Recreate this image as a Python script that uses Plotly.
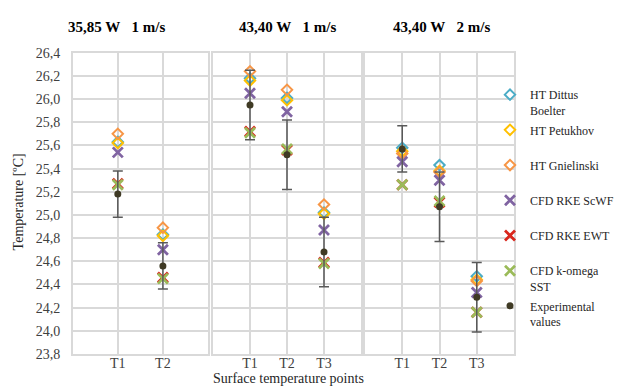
import plotly.graph_objects as go

# ---- data ----
panel_titles = ["35,85 W&nbsp;&nbsp;&nbsp;1 m/s", "43,40 W&nbsp;&nbsp;&nbsp;1 m/s", "43,40 W&nbsp;&nbsp;&nbsp;2 m/s"]
categories = [["T1", "T2"], ["T1", "T2", "T3"], ["T1", "T2", "T3"]]

series_names = ["HT Dittus<br>Boelter", "HT Petukhov<br>&nbsp;", "HT Gnielinski<br>&nbsp;",
                "CFD RKE ScWF<br>&nbsp;", "CFD RKE EWT<br>&nbsp;", "CFD k-omega<br>SST",
                "Experimental<br>values"]

dittus     = [[25.63, 24.83], [26.18, 26.01, 25.02], [25.58, 25.43, 24.47]]
petukhov   = [[25.62, 24.82], [26.16, 25.99, 25.01], [25.55, 25.38, 24.44]]
gnielinski = [[25.70, 24.89], [26.24, 26.08, 25.09], [25.53, 25.37, 24.43]]
rke_scwf   = [[25.54, 24.70], [26.05, 25.89, 24.87], [25.46, 25.30, 24.33]]
rke_ewt    = [[25.27, 24.46], [25.72, 25.56, 24.59], [25.26, 25.11, 24.16]]
k_omega    = [[25.26, 24.45], [25.71, 25.57, 24.58], [25.26, 25.12, 24.16]]
experiment = [[25.18, 24.56], [25.95, 25.52, 24.68], [25.57, 25.07, 24.29]]
exp_error  = [[0.2, 0.2], [0.3, 0.3, 0.3], [0.2, 0.3, 0.3]]

y_ticks = [23.8, 24.0, 24.2, 24.4, 24.6, 24.8, 25.0, 25.2, 25.4, 25.6, 25.8, 26.0, 26.2, 26.4]

# ---- styles ----
colors = ["#4BACC6", "#FFC000", "#F79646", "#8064A2", "#D9261C", "#9BBB59", "#3F3A24"]
symbols = ["diamond-open", "diamond-open", "diamond-open", "x-thin-open", "x-thin-open", "x-thin-open", "circle"]
sizes = [8, 8, 8, 10, 10, 10, 7]
all_series = [dittus, petukhov, gnielinski, rke_scwf, rke_ewt, k_omega, experiment]

FONT = "Liberation Serif"
GRID = "#D9D9D9"
OFF = 8  # page body margin offset
W, H = 628 - OFF, 392 - OFF


def px(x):
    return (x - OFF) / W


def py(y):
    return 1 - (y - OFF) / H


x_domains = [[px(72.7), px(208)], [px(213), px(361)], [px(365), px(514)]]
y_domain = [py(360.7), py(47.3)]

fig = go.Figure()

for p in range(3):
    xa = "x" if p == 0 else f"x{p+1}"
    ya = "y" if p == 0 else f"y{p+1}"
    xpos = [i + 1 for i in range(len(categories[p]))]
    for s in range(7):
        marker = dict(symbol=symbols[s], size=sizes[s], color=colors[s])
        if s < 6:
            marker["line"] = dict(color=colors[s], width=2 if s < 3 else 2.8)
        tr = go.Scatter(
            x=xpos, y=all_series[s][p], mode="markers", name=series_names[s],
            marker=marker, xaxis=xa, yaxis=ya, legendgroup=str(s),
            showlegend=(p == 0), cliponaxis=False,
        )
        if s == 6:
            tr.error_y = dict(type="data", array=exp_error[p], visible=True,
                              color="#595959", thickness=1.5, width=5)
        fig.add_trace(tr)

layout = dict(
    width=W, height=H, margin=dict(l=0, r=0, t=0, b=0),
    paper_bgcolor="white", plot_bgcolor="white",
    separators=",.",
    font=dict(family=FONT, size=14, color="#262626"),
    showlegend=True,
    legend=dict(x=px(490), xanchor="left", y=py(76), yanchor="top",
                bgcolor="rgba(0,0,0,0)", font=dict(family=FONT, size=12, color="#262626"),
                valign="top", tracegroupgap=1, itemwidth=30),
)

for p in range(3):
    xk = "xaxis" if p == 0 else f"xaxis{p+1}"
    yk = "yaxis" if p == 0 else f"yaxis{p+1}"
    n = len(categories[p])
    layout[xk] = dict(
        domain=x_domains[p], range=[0, n + 1], anchor="y" if p == 0 else f"y{p+1}",
        tickvals=[i + 1 for i in range(n)], ticktext=categories[p],
        showgrid=True, gridcolor=GRID, gridwidth=1.5, zeroline=False,
        showline=True, linecolor=GRID, linewidth=1.5, mirror=True,
        ticks="", ticklabelstandoff=-4,
        tickfont=dict(family=FONT, size=14, color="#404040"), fixedrange=True,
    )
    layout[yk] = dict(
        domain=y_domain, range=[23.8, 26.4], anchor="x" if p == 0 else f"x{p+1}",
        tickvals=y_ticks, tickformat=".1f", showticklabels=(p == 0),
        showgrid=True, gridcolor=GRID, gridwidth=1.5, zeroline=False,
        showline=True, linecolor=GRID, linewidth=1.5, mirror=True,
        ticks="", ticklabelstandoff=8,
        tickfont=dict(family=FONT, size=14, color="#404040"), fixedrange=True,
    )

annotations = []
title_x = [116, 287, 441]
for p in range(3):
    annotations.append(dict(
        text=f"<b>{panel_titles[p]}</b>", x=px(title_x[p]), y=py(20),
        xref="paper", yref="paper", xanchor="center", yanchor="middle", showarrow=False,
        font=dict(family=FONT, size=15, color="#000000"),
    ))
annotations.append(dict(
    text="Temperature [ºC]", x=px(18), y=py(203), xref="paper", yref="paper",
    xanchor="center", yanchor="middle", textangle=-90, showarrow=False,
    font=dict(family=FONT, size=14, color="#262626"),
))
annotations.append(dict(
    text="Surface temperature points", x=px(288), y=py(386), xref="paper", yref="paper",
    xanchor="center", yanchor="middle", showarrow=False,
    font=dict(family=FONT, size=14, color="#262626"),
))
layout["annotations"] = annotations

fig.update_layout(**layout)
fig.write_html("out.html")
